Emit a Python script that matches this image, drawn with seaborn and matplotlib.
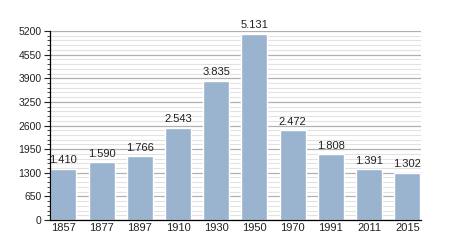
import matplotlib
matplotlib.use("Agg")
import matplotlib.pyplot as plt
import seaborn as sns
import pandas as pd
from matplotlib.ticker import MultipleLocator

years = ["1857", "1877", "1897", "1910", "1930", "1950", "1970", "1991", "2011", "2015"]
population = [1410, 1590, 1766, 2543, 3835, 5131, 2472, 1808, 1391, 1302]
labels = ["1.410", "1.590", "1.766", "2.543", "3.835", "5.131", "2.472", "1.808", "1.391", "1.302"]
yticks = [0, 650, 1300, 1950, 2600, 3250, 3900, 4550, 5200]

df = pd.DataFrame({"year": years, "pop": population})

sns.set_theme(style="white")
plt.rcParams['font.family'] = ['Liberation Sans', 'DejaVu Sans']

fig = plt.figure(figsize=(4.5, 2.5), dpi=100)
ax = fig.add_axes([0.111, 0.12, 0.824, 0.756])

ax.set_axisbelow(True)
ax.yaxis.set_major_locator(MultipleLocator(650))
ax.yaxis.set_minor_locator(MultipleLocator(130))
ax.grid(which="major", axis="y", color="#b0b0b0", linewidth=0.9)
ax.grid(which="minor", axis="y", color="#e2e2e2", linewidth=0.8)

sns.barplot(data=df, x="year", y="pop", color="#9ab4cf", saturation=1, width=0.68, ax=ax)

for i, (v, lab) in enumerate(zip(population, labels)):
    ax.text(i, v + 90, lab, ha="center", va="bottom", fontsize=8, color="#222222")

ax.set_ylim(0, 5200)
ax.set_xlim(-0.35, len(years) - 0.65)
ax.set_yticks(yticks)
ax.set_yticklabels([str(t) for t in yticks])
ax.set_xlabel("")
ax.set_ylabel("")
for s in ["top", "right"]:
    ax.spines[s].set_visible(False)
ax.spines["left"].set_color("#000000")
ax.spines["bottom"].set_color("#000000")
ax.spines["left"].set_linewidth(0.9)
ax.spines["bottom"].set_linewidth(0.9)
ax.tick_params(axis="y", which="major", left=True, length=4, width=0.8, labelsize=7.5, pad=2, colors="#222222")
ax.tick_params(axis="y", which="minor", left=True, length=2, width=0.6)
ax.tick_params(axis="x", bottom=False, length=0, labelsize=8, pad=2.5, colors="#222222")

fig.savefig("out.png", dpi=100)
